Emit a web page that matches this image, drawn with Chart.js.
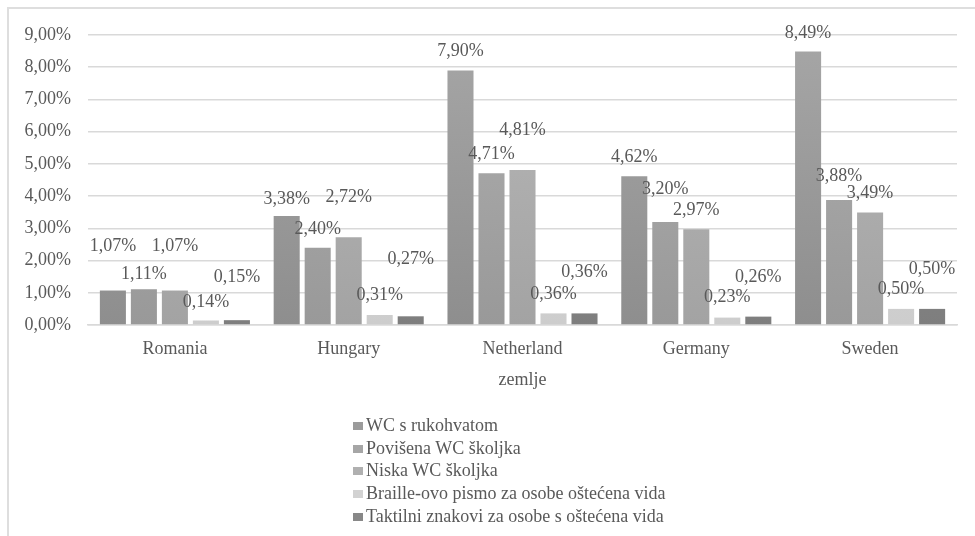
<!DOCTYPE html>
<html>
<head>
<meta charset="utf-8">
<script src="https://cdn.jsdelivr.net/npm/chart.js@4"></script>
<style>
  html, body { margin: 0; padding: 0; background: #fff; }
  #wrap { position: relative; width: 975px; height: 536px; overflow: hidden; }
  #frame { position: absolute; left: 7px; top: 7px; width: 1000px; height: 600px;
           border-left: 2px solid #dedede; border-top: 2px solid #dedede; pointer-events: none; }
  #legend { position: absolute; left: 353px; top: 414px; font-family: "Liberation Serif", serif;
            font-size: 18px; color: #595959; line-height: 22.7px; }
  #legend div { white-space: nowrap; }
  #legend span.box { display: inline-block; width: 10px; height: 8px; margin-right: 3px;
                     vertical-align: 1px; }
</style>
</head>
<body>
<div id="wrap">
  <canvas id="chart" width="975" height="536"></canvas>
  <div id="frame"></div>
  <div id="legend"></div>
</div>
<script>
const countries = ["Romania", "Hungary", "Netherland", "Germany", "Sweden"];
const seriesNames = [
  "WC s rukohvatom",
  "Povišena WC školjka",
  "Niska WC školjka",
  "Braille-ovo pismo za osobe oštećena vida",
  "Taktilni znakovi za osobe s oštećena vida"
];
const wcRukohvat = [1.07, 3.38, 7.90, 4.62, 8.49];
const povisena = [1.11, 2.40, 4.71, 3.20, 3.88];
const niska = [1.07, 2.72, 4.81, 2.97, 3.49];
const braille = [0.14, 0.31, 0.36, 0.23, 0.50];
const taktilni = [0.15, 0.27, 0.36, 0.26, 0.50];
const yTicks = [0, 1, 2, 3, 4, 5, 6, 7, 8, 9];

// where each value label sits (in axis units), as placed in the original
const labelAt = [
  [2.45, 3.91, 8.50, 5.21, 9.06],
  [1.58, 2.98, 5.31, 4.22, 4.62],
  [2.45, 3.97, 6.05, 3.57, 4.10],
  [0.71, 0.93, 0.96, 0.87, 1.12],
  [1.49, 2.05, 1.64, 1.49, 1.74]
];

const colors = [
  ["#a6a6a6", "#8e8e8e"],
  ["#afafaf", "#999999"],
  ["#b8b8b8", "#a3a3a3"],
  ["#dadada", "#cdcdcd"],
  ["#939393", "#7e7e7e"]
];
const legendColors = ["#9b9b9b", "#a6a6a6", "#b0b0b0", "#d2d2d2", "#888888"];

const fmt = v => v.toFixed(2).replace(".", ",") + "%";
const FONT = "Liberation Serif";
const TXT = "#595959";

function grad(i) {
  return ctx => {
    const area = ctx.chart.chartArea;
    if (!area) return colors[i][0];
    const g = ctx.chart.ctx.createLinearGradient(0, area.top, 0, area.bottom);
    g.addColorStop(0, colors[i][0]);
    g.addColorStop(1, colors[i][1]);
    return g;
  };
}

const valueLabels = {
  id: "valueLabels",
  afterDatasetsDraw(chart) {
    const c = chart.ctx;
    const y = chart.scales.y;
    c.save();
    c.font = "18px '" + FONT + "'";
    c.fillStyle = TXT;
    c.textAlign = "center";
    c.textBaseline = "middle";
    chart.data.datasets.forEach((ds, i) => {
      chart.getDatasetMeta(i).data.forEach((bar, j) => {
        c.fillText(fmt(ds.data[j]), bar.x, y.getPixelForValue(labelAt[i][j]));
      });
    });
    c.restore();
  }
};

const series = [wcRukohvat, povisena, niska, braille, taktilni];

const chart = new Chart(document.getElementById("chart"), {
  type: "bar",
  data: {
    labels: countries,
    datasets: series.map((d, i) => ({
      label: seriesNames[i],
      data: d,
      backgroundColor: grad(i),
      borderWidth: 0,
      categoryPercentage: 0.892,
      barPercentage: 0.84
    }))
  },
  options: {
    responsive: false,
    animation: false,
    layout: { padding: { left: 0, top: 35, right: 18, bottom: 141 } },
    plugins: { legend: { display: false }, tooltip: { enabled: false } },
    scales: {
      x: {
        grid: { display: false, drawTicks: false },
        border: { color: "#d9d9d9", width: 1.5 },
        ticks: { font: { family: FONT, size: 18 }, color: TXT, padding: 13 },
        title: { display: true, text: "zemlje", font: { family: FONT, size: 18 }, color: TXT,
                 padding: { top: 0, bottom: 4 } },
        afterFit: s => { s.height = 70; }
      },
      y: {
        min: 0, max: 9,
        afterBuildTicks: s => { s.ticks = yTicks.map(v => ({ value: v })); },
        grid: { color: "#d9d9d9", lineWidth: 1.5, drawTicks: false },
        border: { display: false },
        ticks: { font: { family: FONT, size: 18 }, color: TXT, padding: 17, callback: v => fmt(v) },
        afterFit: s => { s.width = 88; }
      }
    }
  },
  plugins: [valueLabels]
});

const legend = document.getElementById("legend");
chart.data.datasets.forEach((ds, i) => {
  const row = document.createElement("div");
  const box = document.createElement("span");
  box.className = "box";
  box.style.background = legendColors[i];
  row.appendChild(box);
  row.appendChild(document.createTextNode(ds.label));
  legend.appendChild(row);
});
</script>
</body>
</html>
